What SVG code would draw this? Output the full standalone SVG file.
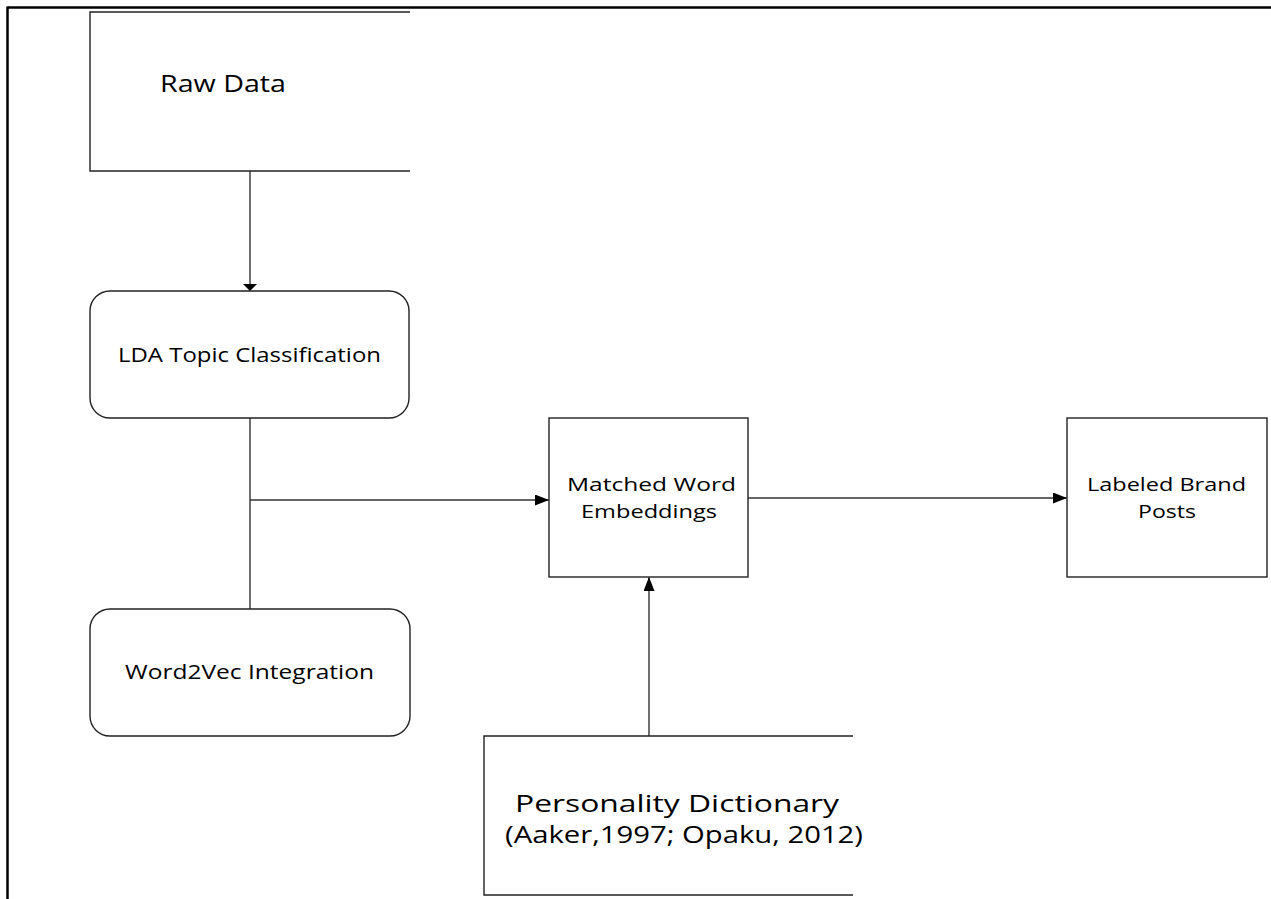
<svg xmlns="http://www.w3.org/2000/svg" width="1271" height="899" viewBox="0 0 1271 899">
<style>
.box{fill:#fff;stroke:#222;stroke-width:1.4}
.open{fill:none;stroke:#222;stroke-width:1.4}
.conn{fill:none;stroke:#333;stroke-width:1.4}
.lbl{font-family:"Open Sans","Liberation Sans",sans-serif;fill:#000;text-anchor:middle}
</style>
<defs>
<marker id="ah" markerWidth="14" markerHeight="11" refX="14" refY="5.5" orient="auto" markerUnits="userSpaceOnUse">
<path d="M0,0 L14,5.5 L0,11 Z" fill="#000"/>
</marker>
<marker id="ahs" markerWidth="7" markerHeight="14" refX="7" refY="7" orient="auto" markerUnits="userSpaceOnUse">
<path d="M0,0 L7,7 L0,14 Z" fill="#000"/>
</marker>
</defs>
<rect x="0" y="0" width="1271" height="899" fill="#fff"/>
<g id="frame">
<line x1="7.5" y1="7.5" x2="1271" y2="7.5" stroke="#000" stroke-width="2.5"/>
<line x1="7.5" y1="6.5" x2="7.5" y2="899" stroke="#000" stroke-width="2.5"/>
</g>
<g id="connectors">
<line class="conn" x1="250" y1="171" x2="250" y2="291" marker-end="url(#ahs)"/>
<line class="conn" x1="250" y1="418" x2="250" y2="609"/>
<line class="conn" x1="250" y1="500" x2="549" y2="500" marker-end="url(#ah)"/>
<line class="conn" x1="748" y1="498" x2="1067" y2="498" marker-end="url(#ah)"/>
<line class="conn" x1="649" y1="736" x2="649" y2="577" marker-end="url(#ah)"/>
</g>
<g id="raw-data">
<path class="open" d="M410,12 H90 V171 H410"/>
<text class="lbl" x="223" y="92" font-size="23" textLength="126" lengthAdjust="spacingAndGlyphs">Raw Data</text>
</g>
<g id="lda">
<rect class="box" x="90" y="291" width="319" height="127" rx="20" ry="20"/>
<text class="lbl" x="249.5" y="362" font-size="20" textLength="263" lengthAdjust="spacingAndGlyphs">LDA Topic Classification</text>
</g>
<g id="word2vec">
<rect class="box" x="90" y="609" width="320" height="127" rx="20" ry="20"/>
<text class="lbl" x="249.5" y="679" font-size="20" textLength="249" lengthAdjust="spacingAndGlyphs">Word2Vec Integration</text>
</g>
<g id="matched">
<rect class="box" x="549" y="418" width="199" height="159"/>
<text class="lbl" x="651.5" y="491" font-size="19" textLength="169" lengthAdjust="spacingAndGlyphs">Matched Word</text>
<text class="lbl" x="649" y="518" font-size="19" textLength="136" lengthAdjust="spacingAndGlyphs">Embeddings</text>
</g>
<g id="labeled">
<rect class="box" x="1067" y="418" width="200" height="159"/>
<text class="lbl" x="1166.5" y="491" font-size="19" textLength="159" lengthAdjust="spacingAndGlyphs">Labeled Brand</text>
<text class="lbl" x="1167" y="518" font-size="19" textLength="58" lengthAdjust="spacingAndGlyphs">Posts</text>
</g>
<g id="personality">
<path class="open" d="M853,736 H484 V895 H853"/>
<text class="lbl" x="677" y="812" font-size="24" textLength="324" lengthAdjust="spacingAndGlyphs">Personality Dictionary</text>
<text class="lbl" x="684" y="843" font-size="24" textLength="358" lengthAdjust="spacingAndGlyphs">(Aaker,1997; Opaku, 2012)</text>
</g>
</svg>
